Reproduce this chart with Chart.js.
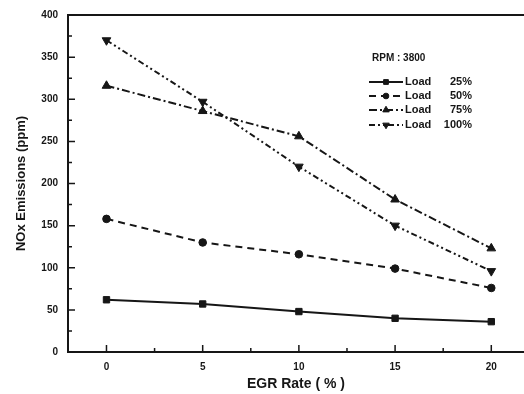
<!DOCTYPE html>
<html>
<head>
<meta charset="utf-8">
<script src="https://cdn.jsdelivr.net/npm/chart.js@4/dist/chart.umd.min.js"></script>
<style>
  html, body { margin: 0; padding: 0; background: #fff; }
  #wrap { width: 524px; height: 394px; }
</style>
</head>
<body>
<div id="wrap"><canvas id="c" width="524" height="394"></canvas></div>
<script>
// data
const egrRate = [0, 5, 10, 15, 20];
const load25 = [62, 57, 48, 40, 36];
const load50 = [158, 130, 116, 99, 76];
const load75 = [316, 286, 256, 181, 123];
const load100 = [370, 297, 220, 150, 96];
const loadNames = ['25%', '50%', '75%', '100%'];
const xTicks = [0, 5, 10, 15, 20];
const yTicks = [0, 50, 100, 150, 200, 250, 300, 350, 400];
const xMinor = [2.5, 7.5, 12.5, 17.5];
const yMinor = [25, 75, 125, 175, 225, 275, 325, 375];

const INK = '#161616';
const FONT = '"Liberation Sans", Arial, sans-serif';

function pts(vals) {
  return egrRate.map((x, i) => ({ x, y: vals[i] }));
}

const styles = [
  { dash: [], point: 'rect', r: 4.5, rot: 0 },
  { dash: [7, 5], point: 'circle', r: 3.8, rot: 0 },
  { dash: [8, 3, 2, 3], point: 'triangle', r: 5, rot: 0 },
  { dash: [6, 3, 2, 3, 2, 3], point: 'triangle', r: 5, rot: 180 }
];

const series = [load25, load50, load75, load100];

const datasets = series.map((vals, i) => ({
  label: 'Load ' + loadNames[i],
  data: pts(vals),
  borderColor: INK,
  backgroundColor: INK,
  borderWidth: 2,
  borderDash: styles[i].dash,
  pointStyle: styles[i].point,
  pointRadius: styles[i].r,
  pointRotation: styles[i].rot,
  pointBackgroundColor: INK,
  pointBorderColor: INK,
  pointBorderWidth: 1,
  tension: 0
}));

// inward ticks, top frame and the legend box
const decor = {
  id: 'decor',
  afterDraw(chart) {
    const ctx = chart.ctx;
    const xs = chart.scales.x, ys = chart.scales.y;
    const area = chart.chartArea;
    ctx.save();
    ctx.strokeStyle = INK;
    ctx.lineWidth = 2;
    ctx.setLineDash([]);
    // top frame line
    ctx.beginPath();
    ctx.moveTo(area.left, area.top);
    ctx.lineTo(area.right, area.top);
    ctx.stroke();
    ctx.lineWidth = 1.5;
    ctx.beginPath();
    xTicks.forEach(v => {
      const p = xs.getPixelForValue(v);
      ctx.moveTo(p, area.bottom); ctx.lineTo(p, area.bottom - 7);
    });
    xMinor.forEach(v => {
      const p = xs.getPixelForValue(v);
      ctx.moveTo(p, area.bottom); ctx.lineTo(p, area.bottom - 4);
    });
    yTicks.forEach(v => {
      const p = ys.getPixelForValue(v);
      ctx.moveTo(area.left, p); ctx.lineTo(area.left + 7, p);
    });
    yMinor.forEach(v => {
      const p = ys.getPixelForValue(v);
      ctx.moveTo(area.left, p); ctx.lineTo(area.left + 4, p);
    });
    ctx.stroke();

    // legend
    ctx.fillStyle = INK;
    ctx.font = 'bold 10px ' + FONT;
    ctx.textBaseline = 'middle';
    ctx.textAlign = 'left';
    ctx.fillText('RPM : 3800', 372, 58);
    const rows = [82, 96, 110, 125];
    chart.data.datasets.forEach((ds, i) => {
      const y = rows[i];
      ctx.lineWidth = 2;
      ctx.setLineDash(ds.borderDash);
      ctx.beginPath();
      ctx.moveTo(369, y); ctx.lineTo(403, y);
      ctx.stroke();
      ctx.setLineDash([]);
      ctx.lineWidth = 1;
      Chart.helpers.drawPoint(ctx, {
        pointStyle: ds.pointStyle,
        radius: ds.pointRadius * 0.75,
        rotation: ds.pointRotation,
        borderWidth: 1
      }, 386, y);
      ctx.font = 'bold 11px ' + FONT;
      ctx.textAlign = 'left';
      ctx.fillText('Load', 405, y);
      ctx.textAlign = 'right';
      ctx.fillText(loadNames[i], 472, y);
    });
    ctx.restore();
  }
};

new Chart(document.getElementById('c'), {
  type: 'line',
  data: { datasets },
  plugins: [decor],
  options: {
    responsive: false,
    animation: false,
    layout: { autoPadding: false, padding: { top: 15, right: 0, left: 0, bottom: 0 } },
    plugins: { legend: { display: false }, tooltip: { enabled: false } },
    scales: {
      x: {
        type: 'linear',
        min: -2,
        max: 21.7,
        afterBuildTicks: s => { s.ticks = xTicks.map(v => ({ value: v })); },
        afterFit: s => { s.height = 42; s.paddingRight = 0; s.paddingLeft = 0; },
        grid: { display: false, drawTicks: false },
        border: { display: true, color: INK, width: 2 },
        ticks: { color: INK, padding: 9, font: { family: FONT, size: 10, weight: 'bold' } },
        title: {
          display: true, text: 'EGR Rate ( % )', color: INK,
          padding: { top: 0, bottom: 1 },
          font: { family: FONT, size: 14, weight: 'bold' }
        }
      },
      y: {
        min: 0,
        max: 400,
        afterBuildTicks: s => { s.ticks = yTicks.map(v => ({ value: v })); },
        afterFit: s => { s.width = 68; s.paddingTop = 0; s.paddingBottom = 0; },
        grid: { display: false, drawTicks: false },
        border: { display: true, color: INK, width: 2 },
        ticks: { color: INK, padding: 10, font: { family: FONT, size: 10, weight: 'bold' } },
        title: {
          display: true, text: 'NOx Emissions (ppm)', color: INK,
          padding: { top: 14, bottom: 0 },
          font: { family: FONT, size: 13, weight: 'bold' }
        }
      }
    }
  }
});
</script>
</body>
</html>
